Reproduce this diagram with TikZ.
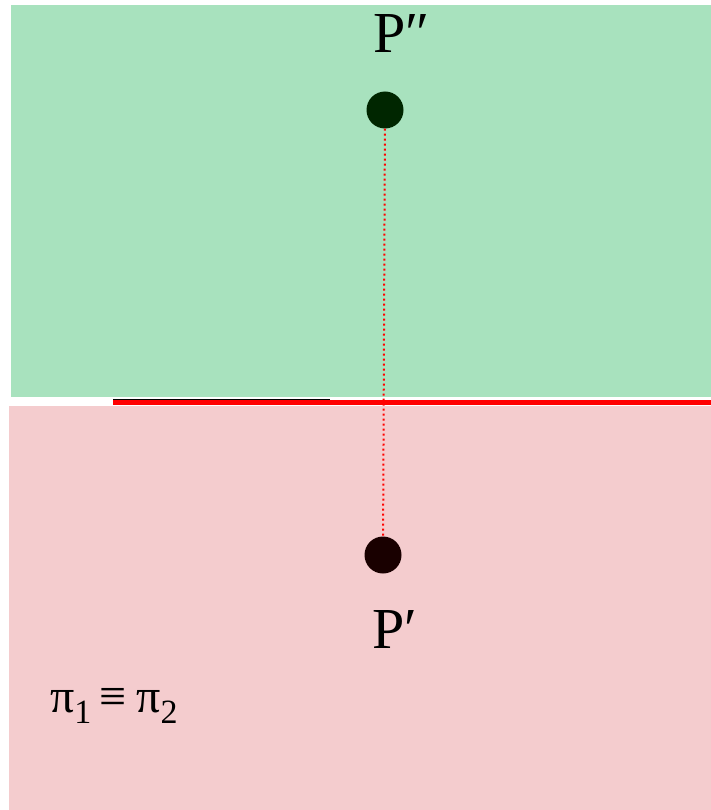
\documentclass[tikz,border=0pt]{standalone}
\usepackage{fontspec}
\setmainfont{Liberation Serif}
\newfontfamily\tms{Liberation Serif}
\usetikzlibrary{positioning}

\definecolor{upgreen}{RGB}{168,226,190}
\definecolor{lowred}{RGB}{244,204,206}
\definecolor{trace}{RGB}{255,0,0}

\tikzset{
  point/.style={circle, fill=black, inner sep=0pt, minimum size=37pt},
  lbl/.style={font=\tms\fontsize{58}{60}\selectfont, inner sep=0pt},
}
\newcommand{\sbs}[1]{\raisebox{-11pt}{\fontsize{34}{36}\selectfont #1}}

\begin{document}
\begin{tikzpicture}[x=1pt, y=-1pt]
\useasboundingbox (0,0) rectangle (711,810);

% the two planes
\fill[upgreen] (11,5) rectangle (711,397);
\fill[lowred] (9,406) rectangle (711,810);

% ground line
\draw[trace, line width=5pt] (113,402) -- (711,402);
\draw[black, line width=1.2pt] (113,399.5) -- (330,399.5);

\node[point, fill=black!85!green] (Pdd) at (385,110) {};
\node[point, fill=black!90!red] (Pd) at (383,555) {};
\draw[trace, line width=2pt, dash pattern=on 2pt off 3pt] (Pdd) -- (Pd);

\node[lbl, anchor=base west] (Ldd) at (373,53) {P″};
\node[lbl, anchor=base west] (Ld) at (372,648) {P′};
\node[anchor=base west, inner sep=0pt, font=\tms\fontsize{48}{50}\selectfont] (pl) at (50,712)
  {π\sbs{1}\hspace{8pt}≡\hspace{10pt}π\sbs{2}};

\end{tikzpicture}
\end{document}
